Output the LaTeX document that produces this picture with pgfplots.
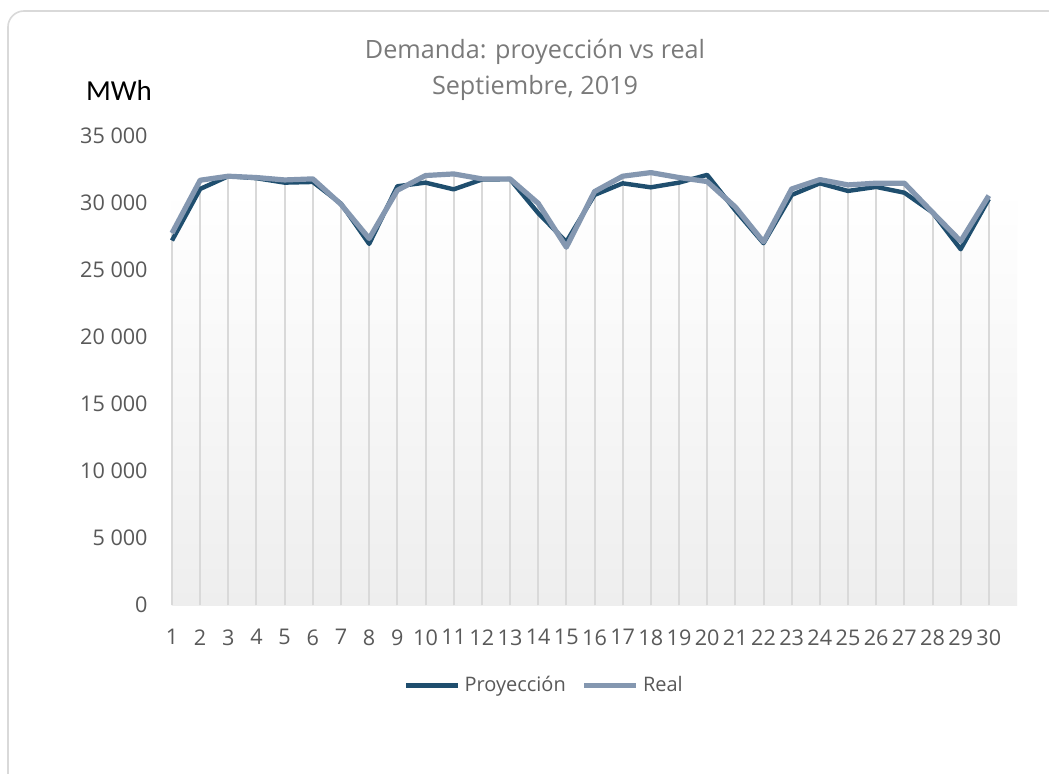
\documentclass[border=0pt]{standalone}
\usepackage{pgfplots}
\pgfplotsset{compat=1.18}
\usepackage{fontspec}
\setmainfont{Open Sans}
\newfontfamily\calib{Carlito}
\definecolor{proy}{HTML}{1F4E6E}
\definecolor{realc}{HTML}{8497B0}
\definecolor{tickc}{HTML}{595959}
\definecolor{titlec}{HTML}{7A7A7A}
\definecolor{gridc}{HTML}{D9D9D9}
\definecolor{bgc}{HTML}{EEEEEE}
\pgfplotstableread{
x y
1 27200
2 31050
3 32000
4 31850
5 31520
6 31570
7 29950
8 26950
9 31250
10 31520
11 31020
12 31750
13 31780
14 29250
15 27100
16 30600
17 31470
18 31170
19 31520
20 32100
21 29450
22 27000
23 30600
24 31470
25 30900
26 31200
27 30770
28 29300
29 26550
30 30300
}\proyT
\pgfplotstableread{
x y
1 27750
2 31700
3 32000
4 31900
5 31720
6 31800
7 29900
8 27350
9 30950
10 32050
11 32170
12 31800
13 31800
14 29980
15 26700
16 30850
17 32000
18 32270
19 31900
20 31600
21 29700
22 27100
23 31050
24 31750
25 31350
26 31480
27 31480
28 29300
29 27150
30 30550
}\realT
\begin{document}
\begin{tikzpicture}
\begin{scope}
\clip (-86pt,-84pt) rectangle (438.5pt,302.5pt);
\fill[white] (-86pt,-84pt) rectangle (438.5pt,302.5pt);
\draw[gridc, line width=0.8pt, rounded corners=8pt] (-82pt,297pt) rectangle (446pt,-95pt);
\end{scope}
\path[use as bounding box] (-86pt,-84pt) rectangle (438.5pt,302.5pt);
\begin{axis}[
  at={(0pt,0pt)}, anchor=south west,
  scale only axis, width=422.5pt, height=234.5pt,
  xmin=1, xmax=31, ymin=0, ymax=35000,
  axis x line=bottom, axis y line=left,
  x axis line style={gridc, line width=0.8pt, -},
  y axis line style={draw=none},
  major tick length=0pt,
  scaled ticks=false,
  xtick={1,...,30}, ytick={0,5000,...,35000},
  /pgf/number format/1000 sep={\ },
  /pgf/number format/assume math mode=true,
  tick label style={font=\fontsize{10.8}{13}\selectfont, text=tickc},
  yticklabel style={anchor=east, inner sep=0pt, xshift=-12pt},
  xticklabel style={anchor=north, inner sep=0pt, yshift=-12pt},
  legend style={draw=none, fill=none, legend columns=2,
    at={(0.442,-0.172)}, anchor=center,
    font=\fontsize{10}{12}\selectfont, text=tickc,
    /tikz/every odd column/.append style={column sep=0pt},
    /tikz/every even column/.append style={column sep=6pt}},
  legend image code/.code={\draw[#1] (0pt,0pt) -- (26pt,0pt);},
  clip=false,
]
\fill[top color=white, bottom color=bgc] (axis cs:1,0) rectangle (axis cs:31,31100);
\addplot[ycomb, gridc, line width=1pt, no markers, forget plot] table {\proyT};
\addplot[ycomb, gridc, line width=1pt, no markers, forget plot] table {\realT};
\addplot[proy, line width=2.2pt, no markers, line join=round] table {\proyT};
\addplot[realc, line width=2.6pt, no markers, line join=round] table {\realT};
\legend{Proyección, Real}
\end{axis}
\node[font=\fontsize{12.6}{15}\selectfont, text=titlec] at (181.5pt,276.5pt) {Demanda: proyección vs real};
\node[font=\fontsize{12.6}{15}\selectfont, text=titlec] at (181.5pt,258.5pt) {Septiembre, 2019};
\node[font=\calib\fontsize{14.5}{17}\selectfont, text=black] at (-26.5pt,257.5pt) {MWh};
\end{tikzpicture}
\end{document}
